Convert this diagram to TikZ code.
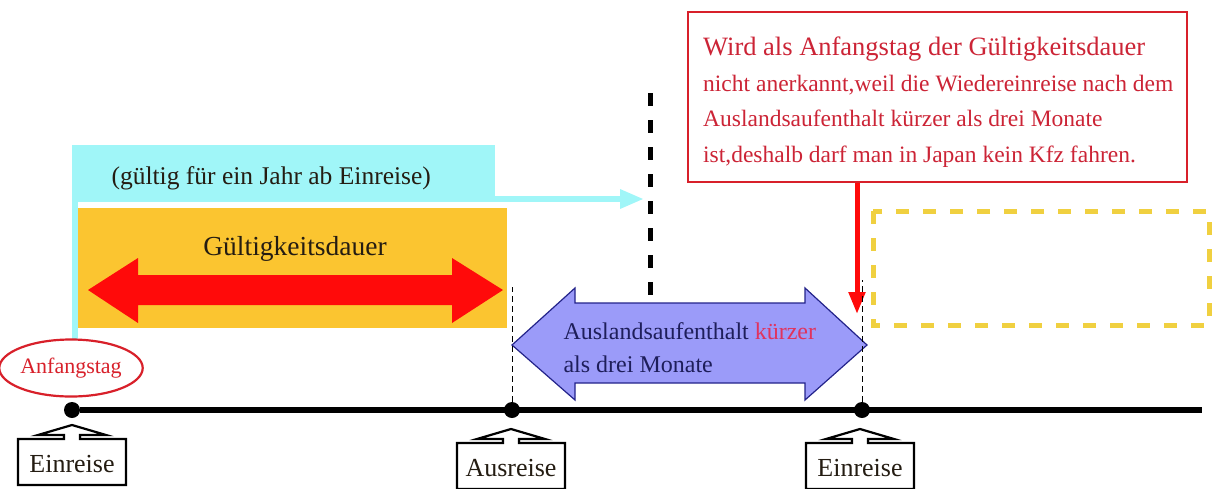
\documentclass[tikz,border=0pt]{standalone}
\usepackage{fontspec}
\setmainfont{Liberation Serif}
\usepackage{tikz}
\usetikzlibrary{arrows.meta, positioning, shapes.geometric}
\definecolor{yearCyan}{HTML}{A0F6F8}
\definecolor{validOrange}{HTML}{FBC530}
\definecolor{validRed}{HTML}{FF0A0A}
\definecolor{noteRed}{HTML}{D8202A}
\definecolor{noteText}{HTML}{CC2436}
\definecolor{abroadBlue}{HTML}{9B9BF9}
\definecolor{abroadLine}{HTML}{23238A}
\definecolor{abroadText}{HTML}{1E1E5A}
\definecolor{shortRed}{HTML}{E0335E}
\definecolor{futureGold}{HTML}{F0D040}
\definecolor{darkText}{HTML}{241C12}

\begin{document}
\begin{tikzpicture}[
    x=1pt, y=-1pt,
    dot/.style={circle, fill=black, inner sep=0pt, minimum size=16pt},
    tagline/.style={draw=black, line width=2.2pt, fill=white, line join=miter},
    tagtext/.style={font=\fontsize{26}{28}\selectfont, text=darkText},
    yearband/.style={rectangle, fill=yearCyan, inner sep=0pt, minimum width=423pt, minimum height=57pt},
    validbox/.style={rectangle, fill=validOrange, inner sep=0pt, minimum width=429pt, minimum height=120pt},
    startmark/.style={ellipse, draw=noteRed, line width=2.2pt, fill=white, inner sep=0pt,
                      minimum width=124pt, minimum height=57pt, text=noteRed, font=\fontsize{22}{24}\selectfont},
    notebox/.style={rectangle, draw=noteRed, line width=2.5pt, fill=white, minimum width=499pt, minimum height=170pt},
    notetext/.style={align=left, inner sep=0pt, text=noteText, font=\fontsize{23.5}{35.5}\selectfont},
    futurebox/.style={draw=futureGold, line width=5pt, dash pattern=on 13pt off 14pt},
    yeararrow/.style={-{Triangle[length=24pt, width=18pt]}, line width=6pt, draw=yearCyan},
    notearrow/.style={-{Triangle[length=22pt, width=16pt]}, line width=5pt, draw=validRed},
    timeline/.style={line width=6pt, draw=black},
    marker/.style={draw=black, line width=1pt, dash pattern=on 6pt off 4pt}
]
\useasboundingbox (0,0) rectangle (1212,488);

% validity period
\node[yearband] (year) at (283.5,173.5) {};
\fill[yearCyan] (year.north west) rectangle ++(6,195);
\node[validbox] (valid) at (292.5,268) {};
\node[font=\fontsize{25.5}{28}\selectfont, text=darkText, anchor=west] (yearText) at (108,178) {(gültig für ein Jahr ab Einreise)};
\node[font=\fontsize{27.5}{30}\selectfont, text=darkText] (validText) at (295,249) {Gültigkeitsdauer};
\fill[validRed] (88,290) -- (138,258) -- (138,275) -- (452,275) -- (452,258) -- (503,290)
    -- (452,323) -- (452,305) -- (138,305) -- (138,323) -- cycle;
\coordinate (yearTip) at (644,199);
\draw[yeararrow] (year.east |- yearTip) -- (yearTip);

% one year mark
\draw[line width=5pt, dash pattern=on 13pt off 14pt] (650,93) -- (650,298);

% stay abroad
\filldraw[fill=abroadBlue, draw=abroadLine, line width=1.2pt] (512,345) -- (575,288) -- (575,303) -- (805,303)
    -- (805,288) -- (867,345) -- (805,400) -- (805,383) -- (575,383) -- (575,400) -- cycle;
\node[anchor=west, align=left, text=abroadText, font=\fontsize{24}{33}\selectfont] (abroadText) at (560,348)
    {Auslandsaufenthalt {\color{shortRed}kürzer}\\als drei Monate};

% note
\node[notebox] (note) at (937.5,97) {};
\node[notetext, anchor=west] (noteText) at (703,102) {{\fontsize{26.5}{35.5}\selectfont Wird als Anfangstag der Gültigkeitsdauer}\\
    nicht anerkannt,weil die Wiedereinreise nach dem\\
    Auslandsaufenthalt kürzer als drei Monate\\
    ist,deshalb darf man in Japan kein Kfz fahren.};
\coordinate (noteTip) at (857,314);
\draw[notearrow] (note.south -| noteTip) -- (noteTip);
\draw[futurebox] (873,211) rectangle (1209,325);

% time line
\node[startmark] (start) at (71,368) {Anfangstag};
\node[dot] (dotA) at (72,410) {};
\node[dot] (dotB) at (512,410) {};
\node[dot] (dotC) at (862,410) {};
\coordinate (lineEnd) at (1202,410);
\draw[timeline] (dotA) -- (lineEnd);
\coordinate (markB) at (512,287);
\coordinate (markC) at (862,280);
\draw[marker] (dotB) -- (markB);
\draw[marker] (dotC) -- (markC);

\foreach \px/\py/\txt/\nm in {72/462/Einreise/tagA, 511/466/Ausreise/tagB, 860/466/Einreise/tagC} {
  \filldraw[tagline] (\px-54,\py+23) -- (\px-54,\py-23) -- (\px-8,\py-23) -- (\px-8,\py-27) -- (\px-34,\py-27)
      -- (\px,\py-37) -- (\px+34,\py-27) -- (\px+8,\py-27) -- (\px+8,\py-23) -- (\px+54,\py-23) -- (\px+54,\py+23) -- cycle;
  \node[tagtext] (\nm) at (\px,\py+2) {\txt};
}

\end{tikzpicture}
\end{document}
